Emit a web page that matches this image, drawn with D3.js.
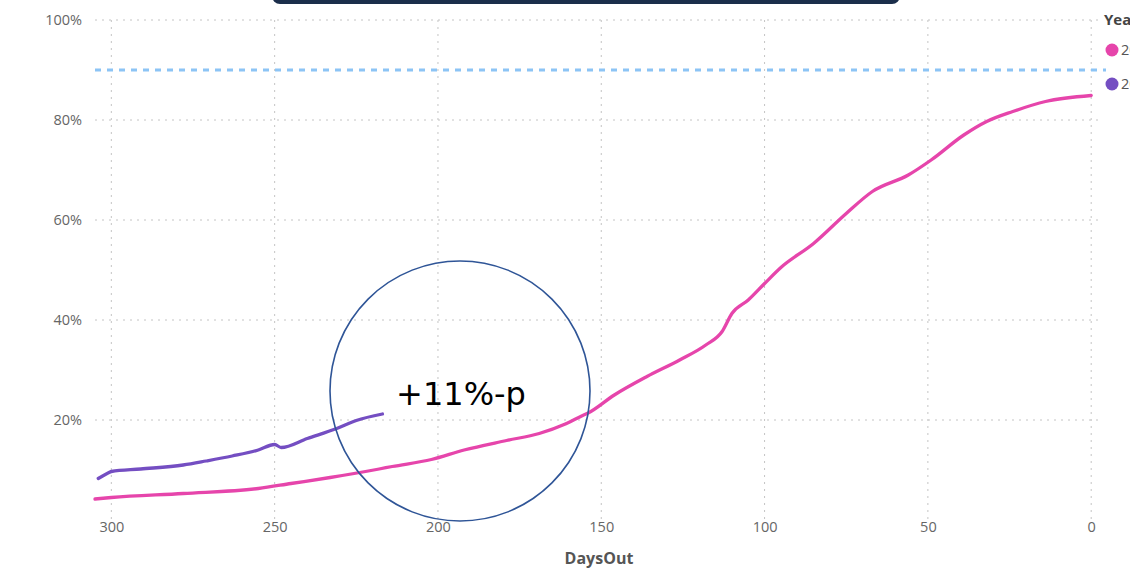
<!DOCTYPE html>
<html>
<head>
<meta charset="utf-8">
<script src="https://cdn.jsdelivr.net/npm/d3@7"></script>
<style>
  body { margin: 0; background: #fff; overflow: hidden; }
  svg { display: block; }
</style>
</head>
<body>
<div id="container"></div>
<script>
/* DATA */
const daysPink = [305, 300, 278, 255, 245, 233, 218, 214, 202, 192, 179, 169, 161, 156, 154, 146, 136, 126, 118, 113, 110, 105, 100, 95, 85, 75, 67, 56, 49, 39, 32, 24, 14, 0];
const valsPink = [4.2, 4.5, 5.3, 6.3, 7.3, 8.5, 10.2, 10.7, 12.1, 14.0, 15.9, 17.3, 19.2, 20.8, 21.4, 25.0, 28.7, 32.0, 35.0, 37.7, 41.3, 44.0, 47.3, 50.5, 55.3, 61.3, 65.7, 69.0, 72.0, 77.0, 79.7, 81.7, 83.7, 84.9];
const daysPurple = [304, 301, 300, 291, 278, 271, 263, 255, 250, 248, 240, 231, 225, 217];
const valsPurple = [8.3, 9.4, 9.7, 10.2, 11.0, 11.8, 12.8, 14.0, 15.1, 14.5, 16.3, 18.3, 19.9, 21.2];
const seriesNames = ["2022", "2023"];
const targetValue = 90;
const xTicks = [300, 250, 200, 150, 100, 50, 0];
const yTicks = [20, 40, 60, 80, 100];
const note = "+11%-p";

/* CONSTANTS */
const width = 1130, height = 570;
const colors = ["#e645ab", "#744ec2"];

const svg = d3.select("#container").append("svg")
  .attr("width", width)
  .attr("height", height);

/* SCALES */
const x = d3.scaleLinear().domain([305, -3]).range([95, 1101]);
const y = d3.scaleLinear().domain([0, 100]).range([520, 20]);

// grid
svg.append("g")
  .selectAll("line.hgrid")
  .data(yTicks)
  .join("line")
  .attr("x1", 95).attr("x2", 1101)
  .attr("y1", d => y(d)).attr("y2", d => y(d))
  .attr("stroke", "#c4c4c4")
  .attr("stroke-width", 1)
  .attr("stroke-dasharray", "2,5");

svg.append("g")
  .selectAll("line.vgrid")
  .data(xTicks)
  .join("line")
  .attr("x1", d => x(d)).attr("x2", d => x(d))
  .attr("y1", y(100)).attr("y2", 519)
  .attr("stroke", "#c4c4c4")
  .attr("stroke-width", 1)
  .attr("stroke-dasharray", "2,5");

// axes (labels only)
const yAxis = d3.axisLeft(y).tickValues(yTicks).tickFormat(d => d + "%").tickSize(0).tickPadding(0);
const gy = svg.append("g").attr("transform", "translate(82,0)").call(yAxis);
gy.select(".domain").remove();
gy.selectAll("text")
  .attr("font-family", "Open Sans, sans-serif")
  .attr("font-size", 14.5)
  .attr("fill", "#666");

const xAxis = d3.axisBottom(x).tickValues(xTicks).tickSize(0).tickPadding(0);
const gx = svg.append("g").attr("transform", "translate(0,522)").call(xAxis);
gx.select(".domain").remove();
gx.selectAll("text")
  .attr("font-family", "Open Sans, sans-serif")
  .attr("font-size", 14.5)
  .attr("fill", "#666");

svg.append("text")
  .attr("x", 599).attr("y", 564)
  .attr("text-anchor", "middle")
  .attr("font-family", "Open Sans, sans-serif")
  .attr("font-weight", "bold")
  .attr("font-size", 16)
  .attr("fill", "#555")
  .text("DaysOut");

// target line
svg.append("line")
  .attr("x1", 95).attr("x2", 1106)
  .attr("y1", y(targetValue)).attr("y2", y(targetValue))
  .attr("stroke", "#8cc4f5")
  .attr("stroke-width", 3)
  .attr("stroke-dasharray", "6,6");

// lines
const line = d3.line().x(d => x(d[0])).y(d => y(d[1])).curve(d3.curveMonotoneX);
const series = [d3.zip(daysPink, valsPink), d3.zip(daysPurple, valsPurple)];
svg.selectAll("path.series")
  .data(series)
  .join("path")
  .attr("class", "series")
  .attr("d", d => line(d.slice().reverse()))
  .attr("fill", "none")
  .attr("stroke", (d, i) => colors[i])
  .attr("stroke-width", 3.3)
  .attr("stroke-linecap", "round")
  .attr("stroke-linejoin", "round");

// legend
svg.append("text")
  .attr("x", 1104).attr("y", 25)
  .attr("font-family", "Open Sans, sans-serif")
  .attr("font-weight", "bold")
  .attr("font-size", 15)
  .attr("fill", "#444")
  .text("Year");
const leg = svg.selectAll("g.leg")
  .data(seriesNames)
  .join("g")
  .attr("class", "leg")
  .attr("transform", (d, i) => `translate(1112,${50 + i * 34})`);
leg.append("circle").attr("r", 6.5).attr("fill", (d, i) => colors[i]);
leg.append("text")
  .attr("x", 9).attr("y", 5)
  .attr("font-family", "Open Sans, sans-serif")
  .attr("font-size", 14.5)
  .attr("fill", "#555")
  .text(d => d);

// top banner
svg.append("rect")
  .attr("x", 272).attr("y", -20)
  .attr("width", 628).attr("height", 24)
  .attr("rx", 8)
  .attr("fill", "#1b2e4b");

// annotation
svg.append("circle")
  .attr("cx", 460).attr("cy", 391).attr("r", 130)
  .attr("fill", "none")
  .attr("stroke", "#2f5597")
  .attr("stroke-width", 1.6);
svg.append("text")
  .attr("x", 461).attr("y", 405)
  .attr("text-anchor", "middle")
  .attr("font-family", "DejaVu Sans, sans-serif")
  .attr("font-size", 32)
  .attr("fill", "#000")
  .text(note);
</script>
</body>
</html>
